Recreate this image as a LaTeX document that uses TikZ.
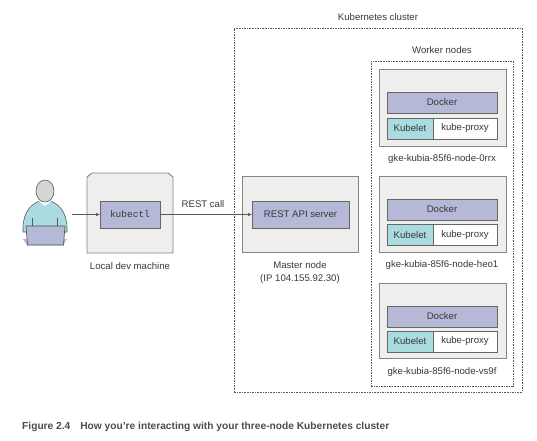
\documentclass[tikz,border=0pt]{standalone}
\usepackage{fontspec}
\setmainfont{Liberation Sans}
\setmonofont{Liberation Mono}
\usetikzlibrary{arrows.meta}
\definecolor{boxgray}{HTML}{EEEEEC}
\definecolor{edgegray}{HTML}{858585}
\definecolor{dockerblue}{HTML}{B5B8D6}
\definecolor{kubeletteal}{HTML}{A9DBE0}
\definecolor{headgray}{HTML}{D5D7D3}
\definecolor{textgray}{HTML}{383838}
\tikzset{
  hostbox/.style={draw=edgegray, fill=boxgray, line width=0.9pt, inner sep=0pt, outer sep=0pt},
  partbox/.style={draw=black!60, line width=0.7pt, inner sep=0pt, outer sep=0pt, text=textgray, font=\fontsize{9.6}{10}\selectfont},
  caption/.style={text=textgray, font=\fontsize{9.6}{13}\selectfont, align=center},
  dashbox/.style={draw=black!65, dash pattern=on 1.6pt off 1pt, line width=0.6pt, inner sep=0pt}
}
\begin{document}
\begin{tikzpicture}[x=1pt, y=-1pt]
    \useasboundingbox (0,0) rectangle (537,440);

    % Cluster and worker frames
    \node[dashbox, minimum width=288pt, minimum height=364pt] (cluster) at (378,210) {};
    \node[dashbox, minimum width=142pt, minimum height=325pt] (workers) at (442,223.5) {};
    \node[caption] (clusterlabel) at (378,17) {Kubernetes cluster};
    \node[caption] (workerslabel) at (442,50) {Worker nodes};

    % Person
    \fill[dockerblue] (23,239) -- (67,239) -- (63,245) -- (27,245) -- cycle;
    \draw[black!65, fill=kubeletteal, line width=0.6pt] (23,228) .. controls (23,212) and (32,201) .. (45,200) .. controls (58,201) and (67,212) .. (67,228) -- (67,232) -- (23,232) -- cycle;
    \fill[white] (38,200.5) -- (52,200.5) -- (45,206) -- cycle;
    \draw[black!65, line width=0.5pt] (32.5,218) -- (32.5,226) (57.5,218) -- (57.5,226);
    \draw[black!65, fill=headgray, line width=0.6pt] (45,191) ellipse (9 and 11);
    \draw[black!70, fill=dockerblue, line width=0.6pt] (26,226) -- (65,226) -- (63.5,245) -- (27.5,245) -- cycle;

    % Local dev machine
    \draw[hostbox] (87,253) -- (87,177) -- (92,173) -- (168,173) -- (173,177) -- (173,253) -- cycle;
    \node[partbox, fill=dockerblue, minimum width=60pt, minimum height=27pt, font=\ttfamily\fontsize{9.5}{10}\selectfont] (kubectl) at (130,214.5) {kubectl};
    \node[caption] (locallabel) at (130,266) {Local dev machine};

    % Master node
    \node[hostbox, minimum width=116pt, minimum height=76pt] (master) at (300,214) {};
    \node[partbox, fill=dockerblue, minimum width=97pt, minimum height=27pt] (apiserver) at (300.5,214.5) {REST API server};
    \node[caption] (masterlabel) at (300,272.5) {Master node\\(IP 104.155.92.30)};

    % First worker
    \node[hostbox, minimum width=127pt, minimum height=77pt] (workerA) at (442.5,107.5) {};
    \node[partbox, fill=dockerblue, minimum width=110pt, minimum height=21pt] (dockerA) at (442,102.5) {Docker};
    \node[partbox, fill=kubeletteal, minimum width=46pt, minimum height=21pt] (kubeletA) at (410,128.5) {Kubelet};
    \node[partbox, fill=white, minimum width=64pt, minimum height=21pt] (proxyA) at (465,128.5) {kube-proxy};
    \node[caption] (labelA) at (442,159) {gke-kubia-85f6-node-0rrx};

    % Second worker
    \node[hostbox, minimum width=127pt, minimum height=76pt] (workerB) at (442.5,214) {};
    \node[partbox, fill=dockerblue, minimum width=110pt, minimum height=21pt] (dockerB) at (442,209.5) {Docker};
    \node[partbox, fill=kubeletteal, minimum width=46pt, minimum height=21pt] (kubeletB) at (410,235) {Kubelet};
    \node[partbox, fill=white, minimum width=64pt, minimum height=21pt] (proxyB) at (465,235) {kube-proxy};
    \node[caption] (labelB) at (442,265) {gke-kubia-85f6-node-heo1};

    % Third worker
    \node[hostbox, minimum width=127pt, minimum height=75pt] (workerC) at (442.5,320.5) {};
    \node[partbox, fill=dockerblue, minimum width=110pt, minimum height=21pt] (dockerC) at (442,316.5) {Docker};
    \node[partbox, fill=kubeletteal, minimum width=46pt, minimum height=21pt] (kubeletC) at (410,341.5) {Kubelet};
    \node[partbox, fill=white, minimum width=64pt, minimum height=21pt] (proxyC) at (465,341.5) {kube-proxy};
    \node[caption] (labelC) at (442,372) {gke-kubia-85f6-node-vs9f};

    % Connectors
    \coordinate (person) at (72,214.5);
    \draw[-{Latex[length=4pt,width=3.5pt]}, black!65, line width=0.6pt] (person) -- (kubectl);
    \draw[-{Latex[length=4pt,width=3.5pt]}, black!65, line width=0.6pt] (kubectl) -- (apiserver);
    \node[caption] (restcall) at (203,204) {REST call};

    % Figure title
    \node[anchor=west, inner sep=0pt, text=black!70, font=\bfseries\fontsize{10.2}{12}\selectfont] (figtitle) at (22,427) {Figure 2.4\hspace{10pt}How you're interacting with your three-node Kubernetes cluster};
\end{tikzpicture}
\end{document}
